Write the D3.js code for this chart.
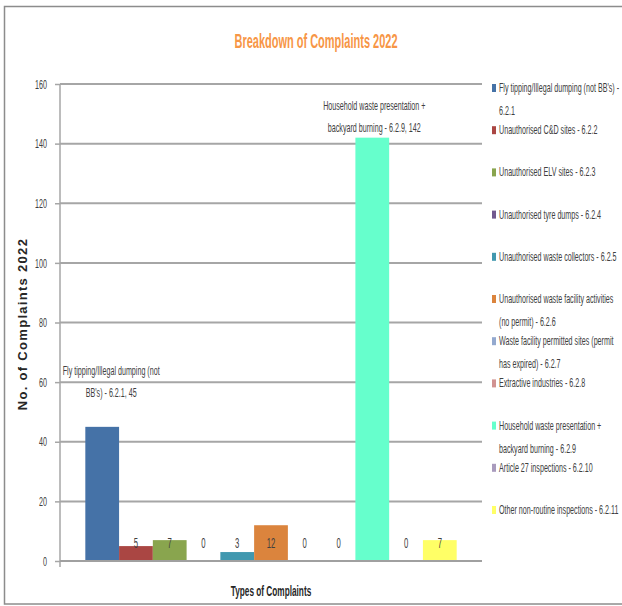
<!DOCTYPE html>
<html>
<head>
<meta charset="utf-8">
<script src="https://cdn.jsdelivr.net/npm/d3@7"></script>
<style>
  body { margin: 0; background: #fff; }
  text { font-family: "Liberation Sans", Arial, sans-serif; }
</style>
</head>
<body>
<svg></svg>
<script>
const [width, height] = [622, 606];

// data
const seriesNames = [
  "Fly tipping/Illegal dumping (not BB's) - 6.2.1",
  "Unauthorised C&D sites - 6.2.2",
  "Unauthorised ELV sites - 6.2.3",
  "Unauthorised tyre dumps - 6.2.4",
  "Unauthorised waste collectors - 6.2.5",
  "Unauthorised waste facility activities (no permit) - 6.2.6",
  "Waste facility permitted sites (permit has expired) - 6.2.7",
  "Extractive industries - 6.2.8",
  "Household waste presentation + backyard burning - 6.2.9",
  "Article 27 inspections - 6.2.10",
  "Other non-routine inspections - 6.2.11"
];
const values = [45, 5, 7, 0, 3, 12, 0, 0, 142, 0, 7];
const colors = ["#4572a7", "#aa4643", "#89a54e", "#71588f", "#4198af", "#db843d",
  "#93a9cf", "#d19392", "#66ffcc", "#a99bbd", "#ffff66"];
const yTicks = [0, 20, 40, 60, 80, 100, 120, 140, 160];
const namedLabels = [0, 8]; // bars labelled with series name + value

const sx = 0.55; // horizontal squash to imitate the condensed font
const textCol = "#404040";

const svg = d3.select("svg").attr('width', width).attr('height', height);

// outer frame
svg.append('rect').attr('x', 4.5).attr('y', 6.5).attr('width', 640).attr('height', 597.5)
  .attr('fill', 'none').attr('stroke', '#8c8c8c').attr('stroke-width', 1.5);

function squashText(sel, x, y) {
  return sel.append('text').attr('transform', `translate(${x},${y}) scale(${sx},1)`);
}

const plot = { left: 60, right: 482, top: 84, bottom: 561 };

const x = d3.scaleBand().domain(d3.range(values.length))
  .range([plot.left, plot.right]).paddingInner(0).paddingOuter(0.75);
const y = d3.scaleLinear().domain([0, 160]).range([plot.bottom, plot.top]);

// gridlines
svg.append('g').selectAll('line').data(yTicks.filter(d => d > 0)).join('line')
  .attr('x1', plot.left).attr('x2', plot.right)
  .attr('y1', d => y(d)).attr('y2', d => y(d))
  .attr('stroke', '#a6a6a6').attr('stroke-width', 2);

// y axis
const yAxis = svg.append('g').attr('transform', `translate(${plot.left},0)`)
  .call(d3.axisLeft(y).tickValues(yTicks).tickSize(5).tickFormat(d3.format('d')));
yAxis.select('.domain').attr('stroke', '#a6a6a6').attr('stroke-width', 1.5)
  .attr('d', `M0,${plot.top}V${plot.bottom + 6}`);
yAxis.selectAll('.tick line').attr('stroke', '#a6a6a6').attr('stroke-width', 1.5);
yAxis.selectAll('.tick text')
  .attr('fill', textCol).attr('font-size', 13)
  .attr('x', 0)
  .attr('transform', `translate(-13,0) scale(${sx},1)`);

// bars
svg.append('g').selectAll('rect').data(values).join('rect')
  .attr('x', (d, i) => x(i)).attr('width', x.bandwidth())
  .attr('y', d => y(d)).attr('height', d => y(0) - y(d))
  .attr('fill', (d, i) => colors[i]);

// x axis baseline
svg.append('line').attr('x1', plot.left).attr('x2', plot.right)
  .attr('y1', y(0)).attr('y2', y(0)).attr('stroke', '#a0a0a0').attr('stroke-width', 2);

// value labels near the base
values.forEach((v, i) => {
  if (namedLabels.includes(i)) return;
  squashText(svg, x(i) + x.bandwidth() / 2, y(0) - 13)
    .attr('text-anchor', 'middle').attr('font-size', 14).attr('fill', textCol).text(v);
});

// name + value labels
function wrap(str, maxW, size) {
  const words = str.split(' ');
  const tmp = svg.append('text').attr('font-size', size);
  const lines = [];
  let cur = '';
  words.forEach(w => {
    const test = cur ? cur + ' ' + w : w;
    tmp.text(test);
    if (tmp.node().getComputedTextLength() * sx > maxW && cur) { lines.push(cur); cur = w; }
    else cur = test;
  });
  lines.push(cur);
  tmp.remove();
  return lines;
}

namedLabels.forEach(i => {
  const lines = wrap(`${seriesNames[i]}, ${values[i]}`, 106, 13);
  const cx = x(i) + x.bandwidth() / 2 + (i === 0 ? 9 : 2);
  const top = i === 0 ? y(values[i]) - 52 : y(values[i]) - 28;
  lines.forEach((l, k) => {
    squashText(svg, cx, top + k * 22)
      .attr('text-anchor', 'middle').attr('font-size', 13).attr('fill', textCol).text(l);
  });
});

// legend
const legendTop = 92, legendStep = 42.2;
seriesNames.forEach((name, i) => {
  const ly = legendTop + i * legendStep;
  svg.append('rect').attr('x', 492).attr('y', ly - 8).attr('width', 4).attr('height', 8)
    .attr('fill', colors[i]);
  const lines = wrap(name, 124, 13);
  lines.forEach((l, k) => {
    squashText(svg, 499, ly + k * 23)
      .attr('font-size', 13).attr('fill', textCol).text(l);
  });
});

// titles
squashText(svg, 316, 48).attr('text-anchor', 'middle').attr('font-size', 20)
  .attr('font-weight', 'bold').attr('fill', '#f79646').text('Breakdown of Complaints 2022');

squashText(svg, (plot.left + plot.right) / 2, 596).attr('text-anchor', 'middle')
  .attr('font-size', 15).attr('font-weight', 'bold').attr('fill', '#262626')
  .text('Types of Complaints');

svg.append('text').attr('transform', `translate(27,324) rotate(-90)`)
  .attr('text-anchor', 'middle').attr('font-family', '"DejaVu Sans", sans-serif')
  .attr('font-size', 13).attr('font-weight', 'bold').attr('fill', '#262626')
  .attr('letter-spacing', 1.3)
  .text('No. of Complaints 2022');
</script>
</body>
</html>
